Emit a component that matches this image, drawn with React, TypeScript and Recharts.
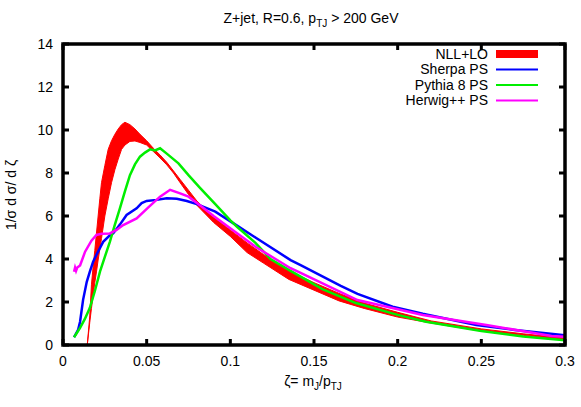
import { ComposedChart, Area, Line, XAxis, YAxis } from 'recharts';

const FONT = '"Liberation Sans", Arial, sans-serif';
const W = 581;
const H = 407;
// plot box in pixels (gnuplot-like frame)
const PLOT = { left: 63, right: 565, top: 44, bottom: 345 };

const xTicks = [0, 0.05, 0.1, 0.15, 0.2, 0.25, 0.3];
const yTicks = [0, 2, 4, 6, 8, 10, 12, 14];

// NLL+LO band (lower / upper edge)
const nllX = [0.0145, 0.016, 0.017, 0.018, 0.019, 0.02, 0.021, 0.022, 0.023, 0.025, 0.027, 0.029, 0.031, 0.033, 0.035, 0.037, 0.04, 0.043, 0.046, 0.05, 0.054, 0.058, 0.062, 0.066, 0.07, 0.075, 0.08, 0.09, 0.1, 0.11, 0.12, 0.135, 0.15, 0.165, 0.18, 0.2, 0.22, 0.25, 0.275, 0.3];
const nllLo = [0, 1.05, 1.7, 2.3, 2.9, 3.4, 3.95, 4.45, 4.95, 6.0, 6.8, 7.55, 8.15, 8.65, 9.1, 9.3, 9.47, 9.49, 9.42, 9.3, 9.0, 8.7, 8.38, 8.0, 7.55, 7.0, 6.5, 5.7, 5.05, 4.3, 3.8, 3.05, 2.55, 2.05, 1.7, 1.3, 1.02, 0.65, 0.45, 0.27];
const nllHi = [0, 1.35, 2.8, 3.64, 4.4, 5.2, 6.0, 6.8, 7.55, 8.35, 9.1, 9.5, 9.8, 10.05, 10.25, 10.36, 10.25, 10.05, 9.8, 9.5, 9.15, 8.84, 8.5, 8.1, 7.7, 7.2, 6.7, 5.95, 5.35, 4.75, 4.2, 3.45, 2.9, 2.4, 1.95, 1.52, 1.12, 0.75, 0.52, 0.32];

const sherpaX = [0.0066, 0.009, 0.0102, 0.012, 0.0142, 0.016, 0.018, 0.02, 0.024, 0.028, 0.03, 0.034, 0.038, 0.044, 0.047, 0.05, 0.056, 0.062, 0.068, 0.074, 0.08, 0.091, 0.104, 0.115, 0.136, 0.142, 0.166, 0.176, 0.197, 0.215, 0.247, 0.27, 0.3];
const sherpaY = [0.36, 0.7, 1.08, 2.1, 2.94, 3.4, 3.87, 4.2, 4.8, 5.1, 5.19, 5.6, 6.05, 6.36, 6.6, 6.7, 6.75, 6.82, 6.8, 6.7, 6.55, 6.2, 5.55, 5.0, 3.95, 3.72, 2.75, 2.38, 1.78, 1.45, 0.93, 0.7, 0.45];

const pythiaX = [0.0066, 0.009, 0.0102, 0.013, 0.016, 0.019, 0.0221, 0.025, 0.028, 0.031, 0.034, 0.037, 0.04, 0.043, 0.046, 0.049, 0.052, 0.055, 0.058, 0.062, 0.069, 0.075, 0.082, 0.091, 0.1, 0.104, 0.115, 0.124, 0.136, 0.142, 0.155, 0.175, 0.2, 0.217, 0.25, 0.275, 0.3];
const pythiaY = [0.36, 0.65, 0.8, 1.2, 1.72, 2.5, 3.41, 4.1, 4.8, 5.6, 6.36, 7.15, 7.9, 8.4, 8.76, 8.95, 9.1, 9.05, 9.15, 8.9, 8.45, 7.9, 7.3, 6.55, 5.8, 5.5, 4.75, 4.0, 3.45, 3.18, 2.6, 1.95, 1.4, 1.08, 0.65, 0.4, 0.22];

const herwigX = [0.0066, 0.0072, 0.0078, 0.0085, 0.0102, 0.0132, 0.017, 0.02, 0.023, 0.028, 0.032, 0.036, 0.044, 0.051, 0.058, 0.064, 0.07, 0.075, 0.083, 0.09, 0.104, 0.115, 0.136, 0.142, 0.176, 0.215, 0.253, 0.292, 0.3];
const herwigY = [3.41, 3.6, 3.45, 3.6, 3.7, 4.34, 4.85, 5.12, 5.17, 5.19, 5.35, 5.58, 5.89, 6.4, 6.9, 7.22, 7.05, 6.9, 6.43, 6.0, 5.2, 4.57, 3.57, 3.35, 2.09, 1.4, 0.93, 0.42, 0.38];

const legendNames = ['NLL+LO', 'Sherpa PS', 'Pythia 8 PS', 'Herwig++ PS'];
const legendColors = ['#ff0000', '#0000ff', '#00ee00', '#ff00ff'];

const nllData = nllX.map((x, i) => ({ x, band: [nllLo[i], nllHi[i]] }));
const sherpaData = sherpaX.map((x, i) => ({ x, y: sherpaY[i] }));
const pythiaData = pythiaX.map((x, i) => ({ x, y: pythiaY[i] }));
const herwigData = herwigX.map((x, i) => ({ x, y: herwigY[i] }));

const BottomTick = (props: any) => {
  const { x, y, payload } = props;
  return (
    <text x={x} y={y} dy="0.71em" textAnchor="middle" fontSize={14} fontFamily={FONT} fill="#000">
      {String(payload.value)}
    </text>
  );
};

const LeftTick = (props: any) => {
  const { x, y, payload } = props;
  return (
    <text x={x} y={y} dy="0.355em" textAnchor="end" fontSize={14} fontFamily={FONT} fill="#000">
      {String(payload.value)}
    </text>
  );
};

const tickPx = (v: number, lo: number, hi: number, a: number, b: number) => a + ((v - lo) / (hi - lo)) * (b - a);

export default function App() {
  const pw = PLOT.right - PLOT.left;
  const ph = PLOT.bottom - PLOT.top;
  return (
    <div style={{ position: 'absolute', left: 0, top: 0, width: W, height: H, background: '#fff' }}>
      <ComposedChart
        width={W}
        height={H}
        margin={{ top: PLOT.top, right: W - PLOT.right, bottom: H - PLOT.bottom - 40, left: PLOT.left - 30 }}
      >
        <XAxis
          dataKey="x"
          type="number"
          domain={[0, 0.3]}
          ticks={xTicks}
          height={40}
          tickSize={0}
          tickMargin={11}
          tickLine={false}
          axisLine={false}
          tick={<BottomTick />}
          allowDataOverflow
        />
        <YAxis
          type="number"
          domain={[0, 14]}
          ticks={yTicks}
          width={30}
          tickSize={0}
          tickMargin={10}
          tickLine={false}
          axisLine={false}
          tick={<LeftTick />}
          allowDataOverflow
        />
        <Area
          data={nllData}
          dataKey="band"
          type="linear"
          fill="#ff0000"
          fillOpacity={1}
          stroke="#ff0000"
          strokeWidth={1}
          dot={false}
          activeDot={false}
          isAnimationActive={false}
        />
        <Line data={sherpaData} dataKey="y" type="linear" stroke="#0000ff" strokeWidth={2.5} dot={false} activeDot={false} isAnimationActive={false} />
        <Line data={pythiaData} dataKey="y" type="linear" stroke="#00ee00" strokeWidth={2.5} dot={false} activeDot={false} isAnimationActive={false} />
        <Line data={herwigData} dataKey="y" type="linear" stroke="#ff00ff" strokeWidth={2.5} dot={false} activeDot={false} isAnimationActive={false} />
      </ComposedChart>
      <svg width={W} height={H} style={{ position: 'absolute', left: 0, top: 0, pointerEvents: 'none' }}>
        {/* frame with inward ticks on all four sides */}
        <rect x={PLOT.left} y={PLOT.top} width={pw} height={ph} fill="none" stroke="#000" strokeWidth={3.5} />
        {xTicks.map((t) => {
          const px = tickPx(t, 0, 0.3, PLOT.left, PLOT.right);
          return (
            <g key={`xt${t}`}>
              <line x1={px} x2={px} y1={PLOT.bottom} y2={PLOT.bottom - 6} stroke="#000" strokeWidth={3} />
              <line x1={px} x2={px} y1={PLOT.top} y2={PLOT.top + 6} stroke="#000" strokeWidth={3} />
            </g>
          );
        })}
        {yTicks.map((t) => {
          const py = tickPx(t, 0, 14, PLOT.bottom, PLOT.top);
          return (
            <g key={`yt${t}`}>
              <line x1={PLOT.left} x2={PLOT.left + 6} y1={py} y2={py} stroke="#000" strokeWidth={3} />
              <line x1={PLOT.right} x2={PLOT.right - 6} y1={py} y2={py} stroke="#000" strokeWidth={3} />
            </g>
          );
        })}
        <g fontFamily={FONT} fill="#000" fontSize={14}>
          <text x={311} y={23} textAnchor="middle">
            Z+jet, R=0.6, p<tspan dy={4} fontSize={10}>TJ</tspan><tspan dy={-4}> &gt; 200 GeV</tspan>
          </text>
          <text x={313} y={386} textAnchor="middle">
            ζ= m<tspan dy={4} fontSize={10}>J</tspan><tspan dy={-4}>/p</tspan><tspan dy={4} fontSize={10}>TJ</tspan>
          </text>
          <text transform="translate(16,195) rotate(-90)" textAnchor="middle">
            1/σ d σ/ d ζ
          </text>
          {legendNames.map((name, i) => {
            const cy = 54 + i * 15.5;
            return (
              <g key={name}>
                <text x={488} y={cy} dy="0.355em" textAnchor="end">{name}</text>
                {i === 0 ? (
                  <rect x={496} y={cy - 4} width={42} height={8} fill={legendColors[i]} />
                ) : (
                  <line x1={496} x2={538} y1={cy} y2={cy} stroke={legendColors[i]} strokeWidth={2} />
                )}
              </g>
            );
          })}
        </g>
      </svg>
    </div>
  );
}
